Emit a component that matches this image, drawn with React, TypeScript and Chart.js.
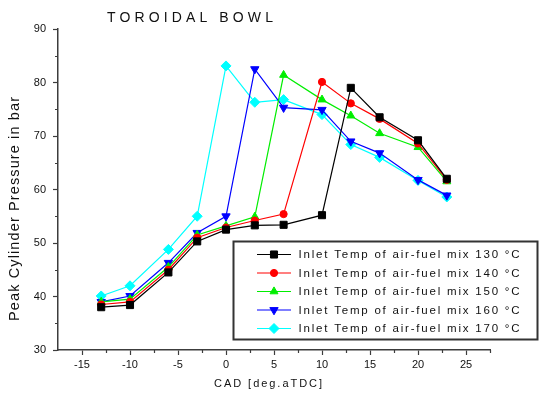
import React, { useEffect, useRef } from 'react';
import { Chart, registerables } from 'chart.js';

Chart.register(...registerables);

// ---------------- data ----------------
const CAD = [-13, -10, -6, -3, 0, 3, 6, 10, 13, 16, 20, 23];
const P130 = [38.0, 38.4, 44.5, 50.3, 52.5, 53.3, 53.4, 55.2, 79.0, 73.5, 69.2, 62.0];
const P140 = [38.5, 39.0, 45.0, 51.0, 52.9, 54.2, 55.4, 80.1, 76.1, 73.2, 68.6, 61.8];
const P150 = [39.0, 39.5, 45.5, 51.5, 53.2, 54.9, 81.4, 76.8, 73.8, 70.5, 67.9, 61.5];
const P160 = [39.0, 40.1, 46.3, 51.9, 55.0, 82.5, 75.3, 74.9, 69.0, 66.8, 61.8, 58.9];
const P170 = [40.1, 42.0, 48.8, 55.0, 83.1, 76.3, 76.8, 74.0, 68.4, 66.0, 61.7, 58.6];

const SERIES_LABELS = [
  'Inlet Temp of air-fuel mix 130 °C',
  'Inlet Temp of air-fuel mix 140 °C',
  'Inlet Temp of air-fuel mix 150 °C',
  'Inlet Temp of air-fuel mix 160 °C',
  'Inlet Temp of air-fuel mix 170 °C',
];

const X_TICKS = [-15, -10, -5, 0, 5, 10, 15, 20, 25];
const X_MINOR = [-12.5, -7.5, -2.5, 2.5, 7.5, 12.5, 17.5, 22.5, 27.5];
const Y_TICKS = [30, 40, 50, 60, 70, 80, 90];
const Y_MINOR = [35, 45, 55, 65, 75, 85];

const TITLE = 'TOROIDAL BOWL';
const X_TITLE = 'CAD [deg.aTDC]';
const Y_TITLE = 'Peak Cylinder Pressure in bar';

// ---------------- styles ----------------
const FONT = '"Liberation Sans", Arial, sans-serif';
const AXIS = '#3c3c3c';

const STYLES = [
  { color: '#000000', pointStyle: 'rect', rotation: 0, radius: 5 },
  { color: '#ff0000', pointStyle: 'circle', rotation: 0, radius: 3.6 },
  { color: '#00ee00', pointStyle: 'triangle', rotation: 0, radius: 4.6 },
  { color: '#0000ff', pointStyle: 'triangle', rotation: 180, radius: 4.8 },
  { color: '#00ffff', pointStyle: 'rectRot', rotation: 0, radius: 5 },
];

const SERIES = [P130, P140, P150, P160, P170];

function spacedText(ctx: CanvasRenderingContext2D, text: string, x: number, y: number, width: number) {
  (ctx as any).letterSpacing = '0px';
  const w = ctx.measureText(text).width;
  const n = Array.from(text).length;
  const sp = n > 1 ? Math.max(0, (width - w) / (n - 1)) : 0;
  (ctx as any).letterSpacing = sp.toFixed(2) + 'px';
  ctx.textAlign = 'left';
  ctx.fillText(text, x, y);
  (ctx as any).letterSpacing = '0px';
}

function drawMarker(ctx: CanvasRenderingContext2D, kind: number, x: number, y: number) {
  const s = STYLES[kind];
  const r = s.radius;
  ctx.fillStyle = s.color;
  ctx.strokeStyle = s.color;
  ctx.lineWidth = 1;
  ctx.beginPath();
  if (s.pointStyle === 'rect') {
    const h = r * Math.SQRT1_2;
    ctx.rect(x - h, y - h, 2 * h, 2 * h);
  } else if (s.pointStyle === 'circle') {
    ctx.arc(x, y, r, 0, Math.PI * 2);
  } else if (s.pointStyle === 'triangle') {
    const dir = s.rotation === 180 ? -1 : 1;
    const a = r * Math.sqrt(3) / 2;
    ctx.moveTo(x, y - dir * r);
    ctx.lineTo(x + a, y + dir * r / 2);
    ctx.lineTo(x - a, y + dir * r / 2);
    ctx.closePath();
  } else {
    ctx.moveTo(x, y - r);
    ctx.lineTo(x + r, y);
    ctx.lineTo(x, y + r);
    ctx.lineTo(x - r, y);
    ctx.closePath();
  }
  ctx.fill();
  ctx.stroke();
}

const decorPlugin = {
  id: 'decor',
  afterDraw(chart: any) {
    const ctx: CanvasRenderingContext2D = chart.ctx;
    const xs = chart.scales.x;
    const ys = chart.scales.y;
    const area = chart.chartArea;
    ctx.save();

    // minor ticks
    ctx.strokeStyle = AXIS;
    ctx.lineWidth = 1.2;
    ctx.beginPath();
    X_MINOR.forEach((v) => {
      const px = Math.round(xs.getPixelForValue(v)) + 0.5;
      ctx.moveTo(px, area.bottom);
      ctx.lineTo(px, area.bottom + 3);
    });
    Y_MINOR.forEach((v) => {
      const py = Math.round(ys.getPixelForValue(v)) + 0.5;
      ctx.moveTo(area.left, py);
      ctx.lineTo(area.left - 3, py);
    });
    ctx.stroke();

    // main title
    ctx.fillStyle = '#111';
    ctx.textBaseline = 'alphabetic';
    ctx.font = `14px ${FONT}`;
    spacedText(ctx, TITLE, 107, 22, 166);

    // x title
    ctx.font = `11px ${FONT}`;
    spacedText(ctx, X_TITLE, 214, 387, 108);

    // y title
    ctx.save();
    ctx.translate(19, 209);
    ctx.rotate(-Math.PI / 2);
    ctx.font = `14.5px ${FONT}`;
    ctx.textBaseline = 'alphabetic';
    spacedText(ctx, Y_TITLE, -112, 0, 224);
    ctx.restore();

    // legend box
    const bx = 233.5, by = 241.5, bw = 304, bh = 98;
    ctx.fillStyle = '#ffffff';
    ctx.fillRect(bx, by, bw, bh);
    ctx.strokeStyle = '#333';
    ctx.lineWidth = 2;
    ctx.strokeRect(bx, by, bw, bh);

    const rows = [254.5, 273, 291.5, 310, 328.5];
    SERIES_LABELS.forEach((label, i) => {
      const y = rows[i];
      ctx.strokeStyle = STYLES[i].color;
      ctx.lineWidth = 1.2;
      ctx.beginPath();
      ctx.moveTo(257, y);
      ctx.lineTo(291, y);
      ctx.stroke();
      drawMarker(ctx, i, 274, y);
      ctx.fillStyle = '#111';
      ctx.font = `11.5px ${FONT}`;
      ctx.textBaseline = 'middle';
      spacedText(ctx, label, 298.5, y + 0.5, 221);
    });

    ctx.restore();
  },
};

export default function App() {
  const ref = useRef<HTMLCanvasElement | null>(null);

  useEffect(() => {
    const canvas = ref.current;
    if (!canvas) return;
    const datasets = SERIES.map((vals, i) => ({
      label: SERIES_LABELS[i],
      data: CAD.map((x, j) => ({ x, y: vals[j] })),
      borderColor: STYLES[i].color,
      backgroundColor: STYLES[i].color,
      borderWidth: 1.2,
      pointStyle: STYLES[i].pointStyle as any,
      pointRotation: STYLES[i].rotation,
      pointRadius: STYLES[i].radius,
      pointBackgroundColor: STYLES[i].color,
      pointBorderColor: STYLES[i].color,
      pointBorderWidth: 1,
      tension: 0,
      clip: false as any,
    }));

    const chart = new Chart(canvas, {
      type: 'line',
      data: { datasets },
      options: {
        responsive: false,
        animation: false,
        devicePixelRatio: 1,
        layout: { padding: { top: 29, right: 52, left: 0, bottom: 0 } },
        plugins: {
          legend: { display: false },
          title: { display: false },
          tooltip: { enabled: false },
        },
        scales: {
          x: {
            type: 'linear',
            min: -17.5,
            max: 27.5,
            afterBuildTicks: (s: any) => {
              s.ticks = X_TICKS.map((v) => ({ value: v }));
            },
            afterFit: (s: any) => {
              s.height = 45;
            },
            ticks: {
              font: { family: FONT, size: 11 },
              color: '#111',
              padding: 3,
              maxRotation: 0,
              autoSkip: false,
            },
            grid: { drawOnChartArea: false, tickLength: 5, tickColor: AXIS, tickWidth: 1.2 },
            border: { color: AXIS, width: 1.5 },
          },
          y: {
            type: 'linear',
            min: 30,
            max: 90,
            afterBuildTicks: (s: any) => {
              s.ticks = Y_TICKS.map((v) => ({ value: v }));
            },
            afterFit: (s: any) => {
              s.width = 58;
            },
            ticks: {
              font: { family: FONT, size: 11 },
              color: '#111',
              padding: 7,
              autoSkip: false,
            },
            grid: { drawOnChartArea: false, tickLength: 5, tickColor: AXIS, tickWidth: 1.2 },
            border: { color: AXIS, width: 1.5 },
          },
        },
      },
      plugins: [decorPlugin],
    });

    return () => chart.destroy();
  }, []);

  return (
    <div style={{ position: 'absolute', left: 0, top: 0, width: 542, height: 395, background: '#fff' }}>
      <canvas ref={ref} width={542} height={395} style={{ display: 'block', width: 542, height: 395 }} />
    </div>
  );
}
